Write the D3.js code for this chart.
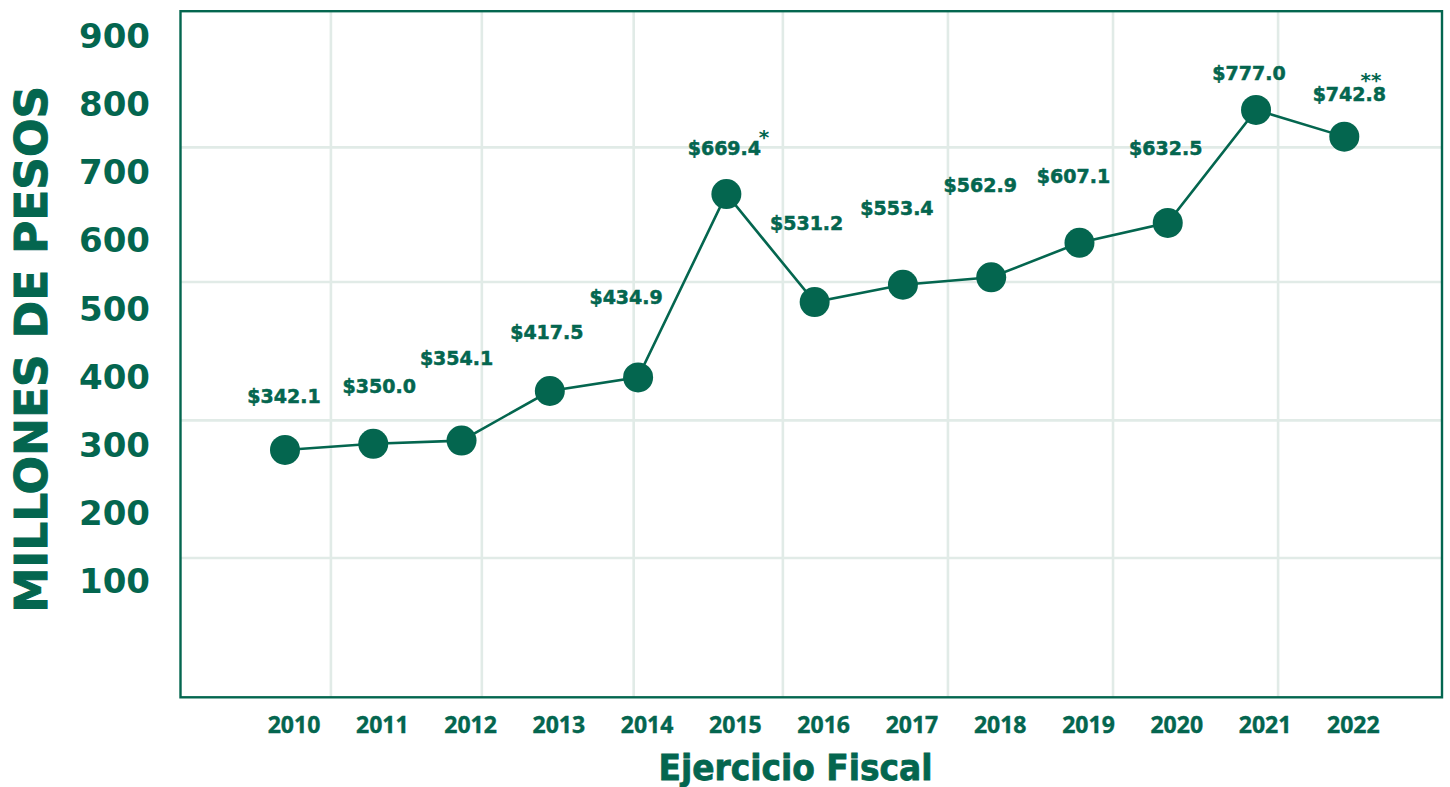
<!DOCTYPE html>
<html>
<head>
<meta charset="utf-8">
<script src="https://cdn.jsdelivr.net/npm/d3@7"></script>
<style>
  html, body { margin: 0; padding: 0; background: #ffffff; }
  svg { display: block; }
</style>
</head>
<body>
<svg id="chart" width="1450" height="787"></svg>
<script>
// ---- data ----
const years = [2010, 2011, 2012, 2013, 2014, 2015, 2016, 2017, 2018, 2019, 2020, 2021, 2022];
const values = [342.1, 350.0, 354.1, 417.5, 434.9, 669.4, 531.2, 553.4, 562.9, 607.1, 632.5, 777.0, 742.8];
const notes = ["", "", "", "", "", "*", "", "", "", "", "", "", "**"];
const yTickValues = [100, 200, 300, 400, 500, 600, 700, 800, 900];
const gridYears = [2010.52, 2012.23, 2013.95, 2015.64, 2017.51, 2019.38, 2021.25];
const gridValues = [204, 380, 557, 729];
const yTitle = "MILLONES DE PESOS";
const xTitle = "Ejercicio Fiscal";

// ---- layout (annotation nudges, px) ----
const labelNudge = [[-1,-54],[6,-58],[-5,-82],[-3,-59],[-12,-80],[-2,-46],[-8,-79],[-6,-77],[-11,-92],[-6,-67],[-2,-75],[-7,-37],[5,-42]];
const noteNudge = {"*": [3, -15], "**": [-15, -19]};

const GREEN = "#04664f";
const GRID = "#e1ebe7";
const frame = {left: 180.5, top: 11.2, right: 1442, bottom: 697.3};

const svg = d3.select("#chart");

const x = d3.scaleLinear().domain([2010, 2022]).range([285, 1344.3]);
const y = d3.scaleLinear().domain([0, 900]).range([717.5, 13.7]);
const yTick = d3.scaleLinear().domain([100, 900]).range([580, 35.5]);

// gridlines
svg.append("g").selectAll("line.v").data(gridYears).join("line")
  .attr("x1", d => x(d)).attr("x2", d => x(d))
  .attr("y1", frame.top).attr("y2", frame.bottom)
  .attr("stroke", GRID).attr("stroke-width", 2.6);
svg.append("g").selectAll("line.h").data(gridValues).join("line")
  .attr("x1", frame.left).attr("x2", frame.right)
  .attr("y1", d => y(d)).attr("y2", d => y(d))
  .attr("stroke", GRID).attr("stroke-width", 2.6);

// frame
svg.append("rect")
  .attr("x", frame.left).attr("y", frame.top)
  .attr("width", frame.right - frame.left).attr("height", frame.bottom - frame.top)
  .attr("fill", "none").attr("stroke", GREEN).attr("stroke-width", 2.4);

// y axis labels
const yAxis = svg.append("g").attr("transform", "translate(150,0)")
  .call(d3.axisLeft(yTick).tickValues(yTickValues).tickSize(0).tickPadding(0));
yAxis.select(".domain").remove();
yAxis.selectAll("text")
  .attr("dy", "0.36em")
  .attr("fill", GREEN)
  .style("font-family", "'DejaVu Sans'")
  .style("font-weight", "bold")
  .style("font-size", "34px");

// x axis labels
const xAxis = svg.append("g").attr("transform", "translate(8.5,725)")
  .call(d3.axisBottom(x).tickValues(years).tickFormat(d3.format("d")).tickSize(0).tickPadding(0));
xAxis.select(".domain").remove();
xAxis.selectAll("text")
  .attr("y", 0)
  .attr("dy", "0.357em")
  .attr("fill", GREEN)
  .attr("stroke", GREEN).attr("stroke-width", 0.4)
  .style("font-family", "'Open Sans'")
  .style("font-weight", "bold")
  .style("font-size", "23px");

// line
const pts = years.map((yr, i) => ({yr, v: values[i], note: notes[i], nudge: labelNudge[i]}));
svg.append("path")
  .datum(pts)
  .attr("d", d3.line().x(d => x(d.yr)).y(d => y(d.v)))
  .attr("fill", "none").attr("stroke", GREEN).attr("stroke-width", 2.6);

// points
svg.append("g").selectAll("circle").data(pts).join("circle")
  .attr("cx", d => x(d.yr)).attr("cy", d => y(d.v)).attr("r", 15)
  .attr("fill", GREEN);

// value labels
const labels = svg.append("g").selectAll("text").data(pts).join("text")
  .attr("x", d => x(d.yr) + d.nudge[0])
  .attr("y", d => y(d.v) + d.nudge[1])
  .attr("dy", "0.36em")
  .attr("text-anchor", "middle")
  .attr("fill", GREEN)
  .attr("stroke", GREEN).attr("stroke-width", 0.5)
  .style("font-family", "'DejaVu Sans'")
  .style("font-weight", "bold")
  .style("font-size", "19px")
  .text(d => "$" + d3.format(".1f")(d.v));

// notes (asterisks)
labels.each(function(d) {
  if (!d.note) return;
  const w = this.getComputedTextLength();
  const cx = x(d.yr) + d.nudge[0];
  const cy = y(d.v) + d.nudge[1];
  const nn = noteNudge[d.note];
  svg.append("text")
    .attr("x", cx + w / 2 + nn[0])
    .attr("y", cy + nn[1] + 11)
    .attr("text-anchor", "middle")
    .attr("fill", GREEN)
    .style("font-family", "'DejaVu Sans'")
    .style("font-weight", "bold")
    .style("font-size", "20px")
    .text(d.note);
});

// axis titles
svg.append("text")
  .attr("transform", "translate(46.5,349.3) rotate(-90)")
  .attr("text-anchor", "middle")
  .attr("fill", GREEN)
  .attr("stroke", GREEN).attr("stroke-width", 1)
  .attr("textLength", 527).attr("lengthAdjust", "spacingAndGlyphs")
  .style("font-family", "'DejaVu Sans'")
  .style("font-weight", "bold")
  .style("font-size", "45px")
  .text(yTitle);

svg.append("text")
  .attr("x", 795.5).attr("y", 780)
  .attr("text-anchor", "middle")
  .attr("fill", GREEN)
  .attr("stroke", GREEN).attr("stroke-width", 0.8)
  .attr("textLength", 274).attr("lengthAdjust", "spacingAndGlyphs")
  .style("font-family", "'DejaVu Sans'")
  .style("font-weight", "bold")
  .style("font-size", "35px")
  .text(xTitle);
</script>
</body>
</html>
